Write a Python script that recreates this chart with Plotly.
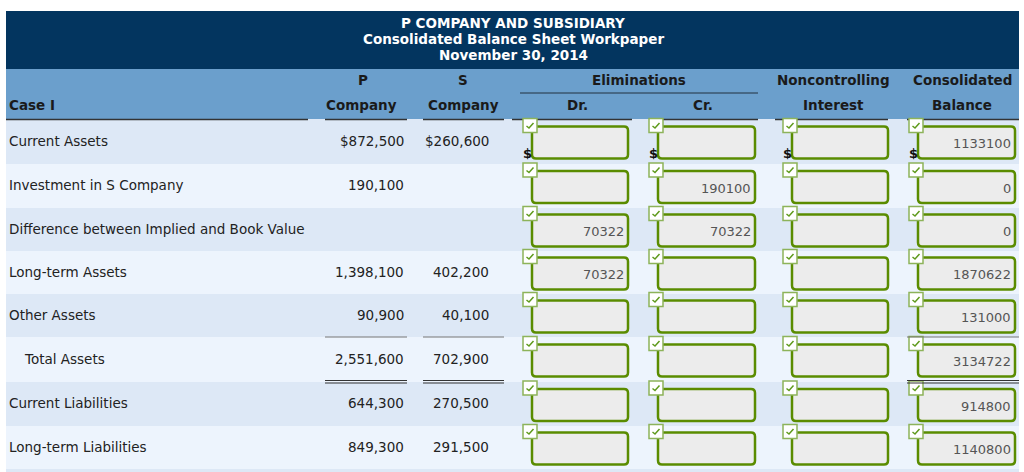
import plotly.graph_objects as go

# ---------------- data ----------------
title_lines = ["P COMPANY AND SUBSIDIARY",
               "Consolidated Balance Sheet Workpaper",
               "November 30, 2014"]
row_labels = ["Current Assets", "Investment in S Company",
              "Difference between Implied and Book Value", "Long-term Assets",
              "Other Assets", "Total Assets", "Current Liabilities",
              "Long-term Liabilities"]
p_company = [872500, 190100, None, 1398100, 90900, 2551600, 644300, 849300]
s_company = [260600, None, None, 402200, 40100, 702900, 270500, 291500]
elim_dr = [None, None, 70322, 70322, None, None, None, None]
elim_cr = [None, 190100, 70322, None, None, None, None, None]
nci = [None, None, None, None, None, None, None, None]
consolidated = [1133100, 0, 0, 1870622, 131000, 3134722, 914800, 1140800]

# ---------------- style ----------------
FONT = "DejaVu Sans"
NAVY = "#03355f"
HEAD = "#6b9fcc"
ROW_DARK = "#dde8f6"
ROW_LIGHT = "#edf4fd"
GREEN = "#5a8c00"
BOXFILL = "#ececec"

fig = go.Figure()
fig.add_trace(go.Scatter(x=[0], y=[0], mode="markers", marker=dict(opacity=0), hoverinfo="skip"))

shapes = []
ann = []

def rect(x0, y0, x1, y1, fill, line=None, lw=0):
    shapes.append(dict(type="rect", xref="x", yref="y", x0=x0, y0=y0, x1=x1, y1=y1,
                       fillcolor=fill, line=dict(color=line or fill, width=lw), layer="below" if lw == 0 else "above"))

def hline(x0, x1, y, color="#444", w=1):
    shapes.append(dict(type="line", xref="x", yref="y", x0=x0, x1=x1, y0=y, y1=y,
                       line=dict(color=color, width=w)))

def rrect(x0, y0, x1, y1, r, fill, line, lw):
    p = (f"M {x0+r},{y0} L {x1-r},{y0} Q {x1},{y0} {x1},{y0+r} L {x1},{y1-r} "
         f"Q {x1},{y1} {x1-r},{y1} L {x0+r},{y1} Q {x0},{y1} {x0},{y1-r} "
         f"L {x0},{y0+r} Q {x0},{y0} {x0+r},{y0} Z")
    shapes.append(dict(type="path", xref="x", yref="y", path=p, fillcolor=fill,
                       line=dict(color=line, width=lw)))

def text(x, y, s, size=13.5, color="#222", anchor="left", bold=False):
    ann.append(dict(x=x, y=y, xref="x", yref="y", text=(f"<b>{s}</b>" if bold else s),
                    showarrow=False, xanchor=anchor, yanchor="middle",
                    font=dict(family=FONT, size=size, color=color)))

# header bands
rect(6, 11, 1019, 69, NAVY)
rect(6, 69, 1019, 119, HEAD)
for i, t in enumerate(title_lines):
    text(513, 22.5 + 16 * i, t, size=13.5, color="white", anchor="center", bold=True)

# column headers
hdr1 = [(363, "P"), (463, "S"), (639, "Eliminations"), (833, "Noncontrolling"), (962, "Consolidated")]
hdr2 = [(361, "Company"), (463, "Company"), (577, "Dr."), (703, "Cr."), (833, "Interest"), (962, "Balance")]
for x, s in hdr1:
    text(x, 80, s, size=13.5, color="#1a1a1a", anchor="center", bold=True)
for x, s in hdr2:
    text(x, 105, s, size=13.5, color="#1a1a1a", anchor="center", bold=True)
text(7, 105, "Case I", size=13.5, color="#1a1a1a", anchor="left", bold=True)
hline(520, 758, 93, "#23313f", 1)

# rows
row_tops = [119, 164, 208, 251, 294, 337, 382, 426, 469]
bottoms = row_tops[1:] + [472]
for i, (t, b) in enumerate(zip(row_tops, bottoms)):
    rect(6, t, 1019, b, ROW_DARK if i % 2 == 0 else ROW_LIGHT)

# header bottom rule segments
for x0, x1 in [(6, 308), (325, 407), (423, 504), (512, 632), (650, 758), (775, 888), (907, 1019)]:
    hline(x0, x1, 119.5, "#333", 1.3)

def fmt(v, i):
    if v is None:
        return ""
    s = f"{v:,}"
    return "$" + s if i == 0 else s

box_cols = [(532, 628, elim_dr), (658, 755, elim_cr), (792, 888, nci), (918, 1015, consolidated)]

for i, lab in enumerate(row_labels):
    cy = (row_tops[i] + row_tops[i + 1]) / 2
    text(22 if lab == "Total Assets" else 7, cy - 1, lab)
    text(406, cy - 1, fmt(p_company[i], i), anchor="right")
    text(491, cy - 1, fmt(s_company[i], i), anchor="right")
    by = cy + 1
    for x0, x1, vals in box_cols:
        y0, y1 = by - 16, by + 16
        rrect(x0, y0, x1, y1, 4, BOXFILL, GREEN, 2.5)
        # checkbox
        cx, cyy = x0 - 9, y0 - 8
        shapes.append(dict(type="rect", xref="x", yref="y", x0=cx, y0=cyy, x1=cx + 14, y1=cyy + 14,
                           fillcolor="white", line=dict(color="#8db35a", width=1.5)))
        shapes.append(dict(type="path", xref="x", yref="y",
                           path=f"M {cx+3.5},{cyy+7.5} L {cx+6},{cyy+9.5} L {cx+10.5},{cyy+4.5}",
                           line=dict(color="#5f9a1c", width=1.5)))
        v = vals[i]
        if v is not None:
            text(x1 - 2, by + 1, str(v), size=13, color="#555", anchor="right")
        if i == 0:
            text(x0 - 5, 153, "$", size=13, color="#111", anchor="center", bold=True)

# totals rules
for x0, x1 in [(325, 407), (423, 504), (907, 1019)]:
    hline(x0, x1, 337, "#777", 1)
    hline(x0, x1, 380.5, "#333", 1)
    hline(x0, x1, 383, "#333", 1)

fig.update_layout(
    width=1024, height=472, margin=dict(l=0, r=0, t=0, b=0),
    paper_bgcolor="white", plot_bgcolor="white", showlegend=False,
    xaxis=dict(range=[0, 1024], visible=False, fixedrange=True),
    yaxis=dict(range=[472, 0], visible=False, fixedrange=True),
    shapes=shapes, annotations=ann,
)

fig.write_html("out.html", config={"displayModeBar": False},
               post_script="document.body.style.margin='0';document.body.style.overflow='hidden';")
